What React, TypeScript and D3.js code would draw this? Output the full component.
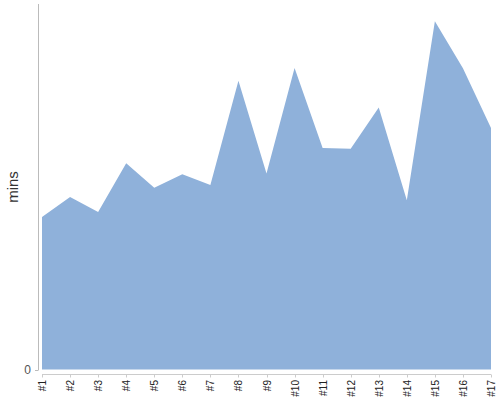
import React from "react";
import * as d3 from "d3";

const categories = ["#1","#2","#3","#4","#5","#6","#7","#8","#9","#10","#11","#12","#13","#14","#15","#16","#17"];
const minsValues = [41.7, 47.2, 43.1, 56.4, 49.7, 53.4, 50.5, 79.0, 53.6, 82.5, 60.6, 60.4, 71.7, 46.3, 95.3, 82.4, 66.1];
const yTicks = [0];
const yLabel = "mins";

export default function App() {
  const W = 500, H = 400;
  const x = d3.scalePoint<string>().domain(categories).range([42, 491]);
  const y = d3.scaleLinear().domain([0, 100]).range([369.5, 4]);
  const area = d3.area<number>()
    .x((_, i) => x(categories[i]) as number)
    .y0(y(0))
    .y1((d) => y(d));
  const font = "'Liberation Sans', Arial, sans-serif";
  return (
    <div style={{ position: "absolute", left: 0, top: 0 }}>
      <svg width={W} height={H} style={{ display: "block", fontFamily: font }}>
        <path d={area(minsValues) || ""} fill="#8fb1da" />
        {/* y axis */}
        <line x1={38.5} x2={38.5} y1={4} y2={370} stroke="#bbb" strokeWidth={1} />
        {yTicks.map((t) => (
          <g key={t}>
            <line x1={35} x2={38.5} y1={Math.round(y(t)) + 0.5} y2={Math.round(y(t)) + 0.5} stroke="#bbb" />
            <text x={31} y={y(t)} dy="0.35em" textAnchor="end" fontSize={12} fill="#555">{t}</text>
          </g>
        ))}
        <text transform={`translate(18,${187}) rotate(-90)`} textAnchor="middle" fontSize={15} fill="#333">{yLabel}</text>
        {/* x axis */}
        <line x1={42} x2={491} y1={374.5} y2={374.5} stroke="#ccc" />
        {categories.map((c) => {
          const px = Math.round(x(c) as number) + 0.5;
          return (
            <g key={c}>
              <line x1={px} x2={px} y1={374.5} y2={377.5} stroke="#ccc" />
              <text transform={`translate(${px},${380}) rotate(-90)`} textAnchor="end" dy="0.35em" fontSize={10} fill="#222">{c}</text>
            </g>
          );
        })}
      </svg>
    </div>
  );
}
